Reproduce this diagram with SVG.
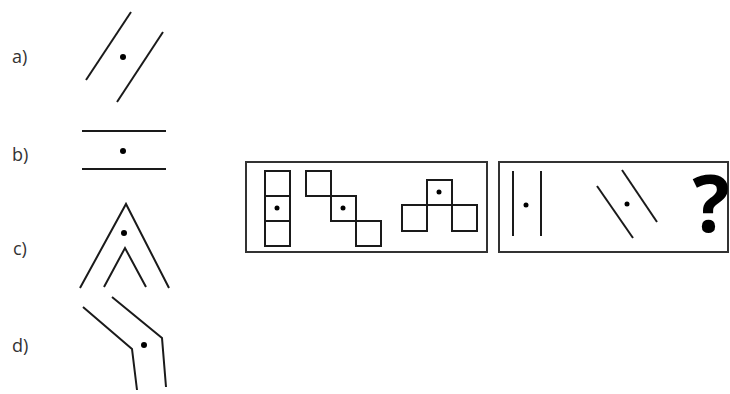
<svg xmlns="http://www.w3.org/2000/svg" width="730" height="394" viewBox="0 0 730 394">
<style>
.ln{fill:none;stroke:#1a1a1a;stroke-width:2;stroke-linecap:butt;stroke-linejoin:miter}
.sq{fill:none;stroke:#1a1a1a;stroke-width:2}
.box{fill:none;stroke:#333;stroke-width:2}
.dot{fill:#000}
.lbl{font-family:"Open Sans","Liberation Sans",sans-serif;font-size:18px;fill:#333}
.q{font-family:"Open Sans","Liberation Sans",sans-serif;font-weight:bold;font-size:78px;fill:#000}
</style>
<rect width="730" height="394" fill="#fff"/>
<g id="opt-a">
<text class="lbl" x="12" y="63">a)</text>
<line class="ln" x1="131" y1="12" x2="86" y2="80"/>
<line class="ln" x1="163" y1="32" x2="117" y2="102"/>
<circle class="dot" cx="123" cy="57" r="3"/>
</g>
<g id="opt-b">
<text class="lbl" x="12" y="161">b)</text>
<line class="ln" x1="82" y1="131" x2="166" y2="131"/>
<line class="ln" x1="82" y1="169" x2="166" y2="169"/>
<circle class="dot" cx="123" cy="151" r="3"/>
</g>
<g id="opt-c">
<text class="lbl" x="13" y="255">c)</text>
<polyline class="ln" points="80,288 126,204 169,288"/>
<polyline class="ln" points="104,287 125,248 146,287"/>
<circle class="dot" cx="124" cy="233" r="3"/>
</g>
<g id="opt-d">
<text class="lbl" x="12" y="352">d)</text>
<polyline class="ln" points="83,307 132,349 137,390"/>
<polyline class="ln" points="112,297 162,338 166,387"/>
<circle class="dot" cx="144" cy="345" r="3"/>
</g>
<g id="panel-left">
<rect class="box" x="246" y="162" width="241" height="90"/>
<rect class="sq" x="265" y="171" width="25" height="25"/>
<rect class="sq" x="265" y="196" width="25" height="25"/>
<rect class="sq" x="265" y="221" width="25" height="25"/>
<circle class="dot" cx="277" cy="208" r="2.5"/>
<rect class="sq" x="306" y="171" width="25" height="25"/>
<rect class="sq" x="331" y="196" width="25" height="25"/>
<rect class="sq" x="356" y="221" width="25" height="25"/>
<circle class="dot" cx="343" cy="208" r="2.5"/>
<rect class="sq" x="427" y="180" width="25" height="25"/>
<rect class="sq" x="402" y="205" width="25" height="26"/>
<rect class="sq" x="452" y="205" width="25" height="26"/>
<circle class="dot" cx="439" cy="192" r="2.5"/>
</g>
<g id="panel-right">
<rect class="box" x="499" y="162" width="229" height="90"/>
<line class="ln" x1="513" y1="171" x2="513" y2="236"/>
<line class="ln" x1="541" y1="171" x2="541" y2="236"/>
<circle class="dot" cx="526" cy="205" r="2.5"/>
<line class="ln" x1="597" y1="186" x2="633" y2="238"/>
<line class="ln" x1="622" y1="170" x2="657" y2="222"/>
<circle class="dot" cx="627" cy="204" r="2.5"/>
<text class="q" x="711" y="232" text-anchor="middle">?</text>
</g>
</svg>
